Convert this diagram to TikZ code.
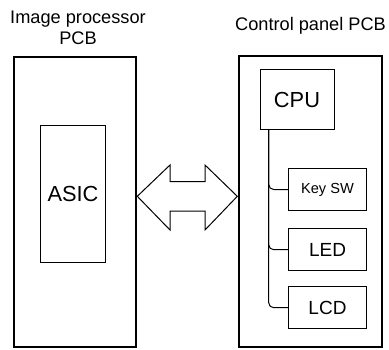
\documentclass[tikz,border=0pt]{standalone}
\usepackage{fontspec}
\setmainfont{Liberation Sans}
\usepackage{tikz}
\usetikzlibrary{positioning}

\begin{document}
\begin{tikzpicture}[
    x=1pt, y=-1pt,
    pcb/.style={draw, rectangle, line width=2pt, inner sep=0pt},
    chip/.style={draw, rectangle, line width=1pt, inner sep=0pt, align=center, font=\fontsize{21.8}{24}\selectfont},
    part/.style={draw, rectangle, line width=1pt, inner sep=0pt, minimum width=78.4pt, minimum height=42pt, align=center, font=\fontsize{19}{22}\selectfont},
    title/.style={inner sep=0pt, anchor=north, align=center, font=\fontsize{18.2}{21.7}\selectfont},
    bus/.style={line width=1pt, rounded corners=5pt},
    link/.style={draw, line width=1pt, line join=miter, fill=white}
]
    \useasboundingbox (0,0) rectangle (389,349);

    % Image processor PCB
    \node[pcb, minimum width=121.7pt, minimum height=289.2pt] (ipb) at (74.85,201.9) {};
    \node[title] (ipbtitle) at (78,10.3) {Image processor\\PCB};

    % ASIC
    \node[chip, minimum width=64.6pt, minimum height=137pt] (asic) at (73,193.5) {ASIC};

    % Control panel PCB
    \node[pcb, minimum width=142.4pt, minimum height=290.5pt] (cpb) at (310.5,201.25) {};
    \node[title] (cpbtitle) at (310.5,17.4) {Control panel PCB};

    % CPU
    \node[chip, minimum width=74pt, minimum height=59.6pt] (cpu) at (297,99.5) {CPU};

    % Key SW, LED, LCD
    \node[part, font=\fontsize{14.6}{17}\selectfont] (keysw) at (327.5,189.5) {Key SW};
    \node[part] (led) at (327.5,249.7) {LED};
    \node[part] (lcd) at (327.5,307.7) {LCD};

    % Bus from CPU
    \coordinate (bus) at (268.7,129.3);
    \draw[bus] (bus) |- (keysw.west);
    \draw[bus] (bus) |- (led.west);
    \draw[bus] (bus) |- (lcd.west);

    % Double arrow between the PCBs
    \coordinate (ltip) at (137.3,196.3);
    \coordinate (rtip) at (237.3,196.3);
    \draw[link] (ltip) -- ++(32.7,-31.3) -- ++(0,16.7) -- ++(35,0) -- ++(0,-16.7)
        -- (rtip) -- ++(-32.3,33.7) -- ++(0,-19) -- ++(-35,0) -- ++(0,19) -- cycle;

\end{tikzpicture}
\end{document}
